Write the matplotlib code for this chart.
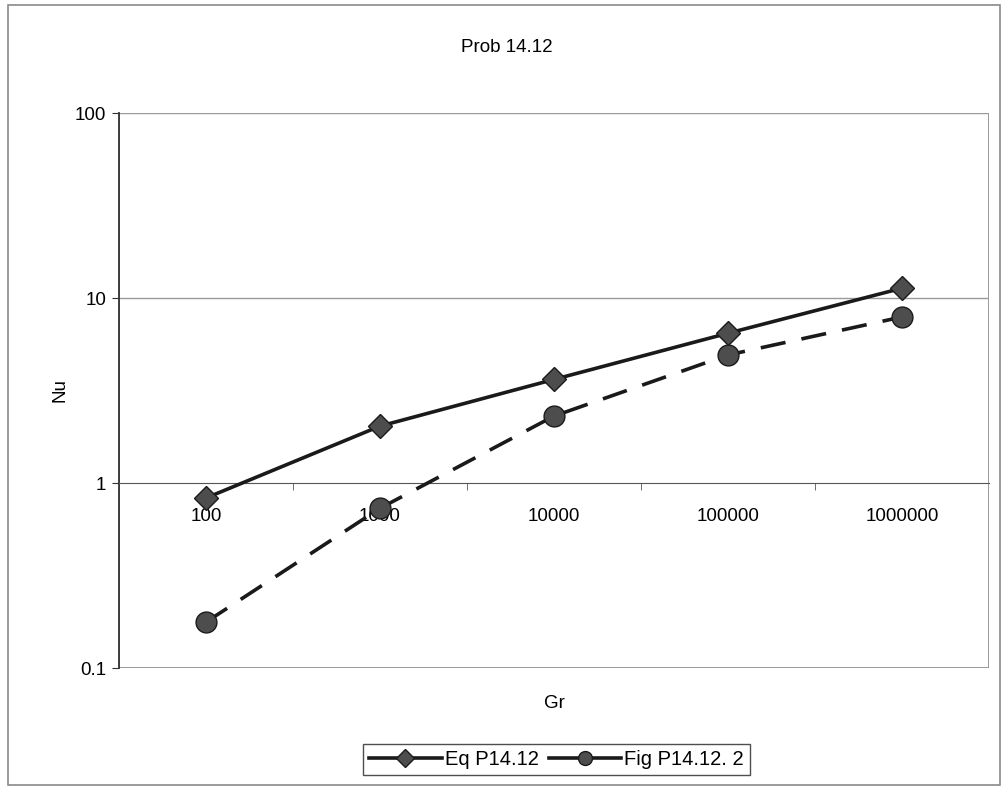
import numpy as np
import matplotlib as mpl
mpl.use("agg")
import matplotlib.pyplot as plt
from matplotlib.patches import Rectangle
from matplotlib.lines import Line2D

plt.rcParams["font.family"] = ["Liberation Sans", "DejaVu Sans"]

gr_labels = ["100", "1000", "10000", "100000", "1000000"]
nu_eq = [0.83, 2.03, 3.63, 6.45, 11.3]
nu_fig = [0.177, 0.73, 2.3, 4.92, 7.9]
series_names = ["Eq P14.12", "Fig P14.12. 2"]

fig = plt.figure(figsize=(10.08, 7.9), dpi=100)
ax = fig.add_axes([0.118, 0.1544, 0.863, 0.7025])

# outer chart border
fig.patches.append(Rectangle((0.008, 0.006), 0.984, 0.988, transform=fig.transFigure,
                             fill=False, edgecolor="#8a8a8a", linewidth=1.2))

x = np.arange(len(gr_labels))
ax.plot(x, nu_eq, color="#1a1a1a", lw=2.6, marker="D", ms=12,
        mfc="#4d4d4d", mec="#1a1a1a", zorder=4)
ax.plot(x, nu_fig, color="#1a1a1a", lw=2.6, linestyle=(0, (7, 4.5)), marker="o", ms=15,
        mfc="#4d4d4d", mec="#1a1a1a", zorder=4)

ax.set_yscale("log")
ax.set_ylim(0.1, 100)
ax.set_xlim(-0.5, len(gr_labels) - 0.5)

for v in (10, 100):
    ax.axhline(v, color="#9a9a9a", lw=1.0, zorder=1)

for s in ("top", "right", "left"):
    ax.spines[s].set_visible(False)
ax.spines["bottom"].set_position(("data", 1))
ax.spines["bottom"].set_color("#555555")
ax.add_patch(Rectangle((0, 0), 1, 1, transform=ax.transAxes, fill=False,
                       edgecolor="#8a8a8a", lw=1.2, zorder=0))
ax.plot([0, 0], [0, 1], transform=ax.transAxes, color="#333333", lw=1.3, clip_on=False)

ax.set_xticks(x)
ax.set_xticklabels(gr_labels, fontsize=13.5)
ax.set_xticks(x[:-1] + 0.5, minor=True)
ax.tick_params(axis="x", which="major", length=0, pad=18)
ax.tick_params(axis="x", which="minor", length=5, color="#555555")

ax.set_yticks([0.1, 1, 10, 100])
ax.set_yticklabels(["0.1", "1", "10", "100"], fontsize=13.5)
ax.yaxis.set_minor_locator(mpl.ticker.NullLocator())
ax.tick_params(axis="y", length=5, color="#333333", pad=4)

fig.text(0.503, 0.94, "Prob 14.12", ha="center", va="center", fontsize=13.5)
fig.text(0.06, 0.506, "Nu", ha="center", va="center", rotation=90, fontsize=13.5)
fig.text(0.55, 0.11, "Gr", ha="center", va="center", fontsize=13.5)

handles = [
    Line2D([], [], color="#1a1a1a", lw=2.6, marker="D", ms=9, mfc="#4d4d4d", mec="#1a1a1a"),
    Line2D([], [], color="#1a1a1a", lw=2.6, marker="o", ms=10, mfc="#4d4d4d", mec="#1a1a1a"),
]
leg = fig.legend(handles, series_names, loc="center", bbox_to_anchor=(0.552, 0.0385), ncol=2,
                 fontsize=14.5, handlelength=3.6, columnspacing=0.5, handletextpad=0.15,
                 fancybox=False, edgecolor="#222222", borderpad=0.3)
leg.get_frame().set_linewidth(1.0)

fig.savefig("out.png", dpi=100)
